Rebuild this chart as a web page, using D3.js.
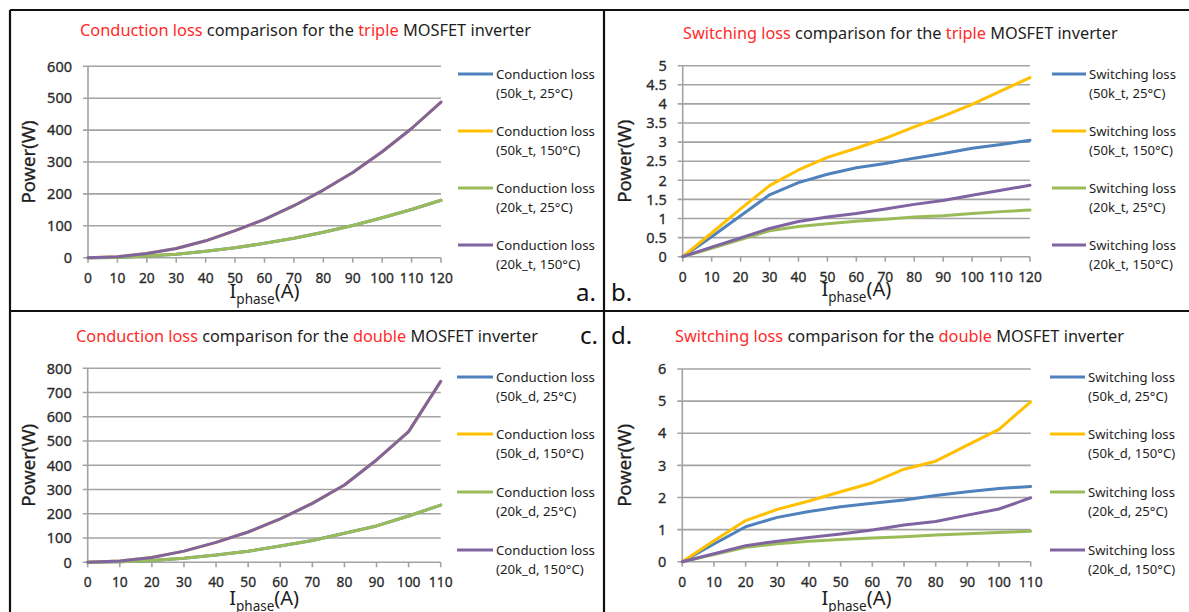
<!DOCTYPE html>
<html>
<head>
<meta charset="utf-8">
<script src="https://cdn.jsdelivr.net/npm/d3@7"></script>
<style>
  body { margin: 0; background: #fff; }
  svg { display: block; }
  text { font-family: "Noto Sans", "Open Sans", sans-serif; }
  .lbl { stroke: currentColor; stroke-width: 0.3px; }
</style>
</head>
<body>
<svg id="fig" width="1189" height="612"></svg>
<script>
// ---- data -------------------------------------------------------------
const currentTriple = [0, 10, 20, 30, 40, 50, 60, 70, 80, 90, 100, 110, 120];
const currentDouble = [0, 10, 20, 30, 40, 50, 60, 70, 80, 90, 100, 110];

// conduction loss, triple MOSFET inverter (W)
const condTriple50k25  = [0, 1, 5, 11, 20, 31, 45, 61, 80, 101, 125, 151, 180];
const condTriple50k150 = [0, 3, 13, 29, 53, 85, 120, 163, 212, 267, 332, 405, 488];
const condTriple20k25  = [0, 1, 5, 11, 20, 31, 45, 61, 80, 101, 125, 151, 180];
const condTriple20k150 = [0, 3, 13, 29, 53, 85, 120, 163, 212, 267, 332, 405, 488];

// switching loss, triple MOSFET inverter (W)
const swTriple50k25  = [0, 0.52, 1.07, 1.62, 1.94, 2.16, 2.33, 2.44, 2.58, 2.70, 2.84, 2.94, 3.05];
const swTriple50k150 = [0, 0.62, 1.25, 1.86, 2.27, 2.60, 2.84, 3.10, 3.40, 3.68, 3.99, 4.34, 4.69];
const swTriple20k25  = [0, 0.22, 0.45, 0.68, 0.79, 0.86, 0.93, 0.98, 1.04, 1.07, 1.13, 1.18, 1.22];
const swTriple20k150 = [0, 0.25, 0.49, 0.74, 0.92, 1.04, 1.13, 1.25, 1.37, 1.47, 1.61, 1.74, 1.87];

// conduction loss, double MOSFET inverter (W)
const condDouble50k25  = [0, 2, 7, 17, 30, 46, 67, 90, 120, 150, 191, 236];
const condDouble50k150 = [0, 5, 20, 46, 82, 125, 179, 243, 319, 422, 539, 746];
const condDouble20k25  = [0, 2, 7, 17, 30, 46, 67, 90, 120, 150, 191, 236];
const condDouble20k150 = [0, 5, 20, 46, 82, 125, 179, 243, 319, 422, 539, 746];

// switching loss, double MOSFET inverter (W)
const swDouble50k25  = [0, 0.55, 1.09, 1.38, 1.56, 1.71, 1.82, 1.92, 2.06, 2.18, 2.28, 2.34];
const swDouble50k150 = [0, 0.65, 1.28, 1.63, 1.89, 2.18, 2.46, 2.88, 3.13, 3.63, 4.12, 4.98];
const swDouble20k25  = [0, 0.22, 0.45, 0.56, 0.64, 0.69, 0.74, 0.78, 0.83, 0.87, 0.91, 0.95];
const swDouble20k150 = [0, 0.25, 0.50, 0.64, 0.75, 0.86, 0.99, 1.14, 1.25, 1.45, 1.64, 1.99];

// axis ticks
const xTicksTriple = [0, 10, 20, 30, 40, 50, 60, 70, 80, 90, 100, 110, 120];
const xTicksDouble = [0, 10, 20, 30, 40, 50, 60, 70, 80, 90, 100, 110];
const yTicksCondTriple = [0, 100, 200, 300, 400, 500, 600];
const yTicksSwTriple   = [0, 0.5, 1, 1.5, 2, 2.5, 3, 3.5, 4, 4.5, 5];
const yTicksCondDouble = [0, 100, 200, 300, 400, 500, 600, 700, 800];
const yTicksSwDouble   = [0, 1, 2, 3, 4, 5, 6];

// legend labels
const legendCondTriple = [["Conduction loss", "(50k_t, 25°C)"], ["Conduction loss", "(50k_t, 150°C)"],
                          ["Conduction loss", "(20k_t, 25°C)"], ["Conduction loss", "(20k_t, 150°C)"]];
const legendSwTriple   = [["Switching loss", "(50k_t, 25°C)"], ["Switching loss", "(50k_t, 150°C)"],
                          ["Switching loss", "(20k_t, 25°C)"], ["Switching loss", "(20k_t, 150°C)"]];
const legendCondDouble = [["Conduction loss", "(50k_d, 25°C)"], ["Conduction loss", "(50k_d, 150°C)"],
                          ["Conduction loss", "(20k_d, 25°C)"], ["Conduction loss", "(20k_d, 150°C)"]];
const legendSwDouble   = [["Switching loss", "(50k_d, 25°C)"], ["Switching loss", "(50k_d, 150°C)"],
                          ["Switching loss", "(20k_d, 25°C)"], ["Switching loss", "(20k_d, 150°C)"]];

const seriesColors = ["#4F81BD", "#FFC000", "#9BBB59", "#8064A2"];

// ---- layout -----------------------------------------------------------
const RED = "#ff2a2a", INK = "#1e1e1e", GRID = "#a3a3a3";

const panels = [
  { tag: "a.", tagX: 576, tagY: 301,
    title: [["Conduction loss", RED], [" comparison for the ", INK], ["triple", RED], [" MOSFET inverter", INK]],
    titleX: 80, titleY: 36, titleW: 451,
    left: 88, right: 441, top: 66.3, bottom: 257.7,
    x: currentTriple, xTicks: xTicksTriple, yTicks: yTicksCondTriple,
    series: [condTriple50k25, condTriple50k150, condTriple20k25, condTriple20k150],
    legend: legendCondTriple, legX1: 458, legX2: 493, legTextX: 496, legY: [74, 131, 188, 245], legW: 99,
    ylabX: 29, xlabBase: 298 },
  { tag: "b.", tagX: 611, tagY: 301,
    title: [["Switching loss", RED], [" comparison for the ", INK], ["triple", RED], [" MOSFET inverter", INK]],
    titleX: 683, titleY: 39, titleW: 435,
    left: 682.7, right: 1030, top: 65.7, bottom: 256.7,
    x: currentTriple, xTicks: xTicksTriple, yTicks: yTicksSwTriple,
    series: [swTriple50k25, swTriple50k150, swTriple20k25, swTriple20k150],
    legend: legendSwTriple, legX1: 1052, legX2: 1086, legTextX: 1089, legY: [74, 131, 188, 245], legW: 87,
    ylabX: 625, xlabBase: 296 },
  { tag: "c.", tagX: 580, tagY: 344,
    title: [["Conduction loss", RED], [" comparison for the ", INK], ["double", RED], [" MOSFET inverter", INK]],
    titleX: 76, titleY: 341.5, titleW: 462,
    left: 87.7, right: 440.7, top: 368.3, bottom: 562.3,
    x: currentDouble, xTicks: xTicksDouble, yTicks: yTicksCondDouble,
    series: [condDouble50k25, condDouble50k150, condDouble20k25, condDouble20k150],
    legend: legendCondDouble, legX1: 457, legX2: 493, legTextX: 496, legY: [377, 434, 492, 550], legW: 99,
    ylabX: 29, xlabBase: 605 },
  { tag: "d.", tagX: 611, tagY: 344,
    title: [["Switching loss", RED], [" comparison for the ", INK], ["double", RED], [" MOSFET inverter", INK]],
    titleX: 675, titleY: 342, titleW: 449,
    left: 682.3, right: 1030.7, top: 369, bottom: 561.7,
    x: currentDouble, xTicks: xTicksDouble, yTicks: yTicksSwDouble,
    series: [swDouble50k25, swDouble50k150, swDouble20k25, swDouble20k150],
    legend: legendSwDouble, legX1: 1050, legX2: 1085, legTextX: 1088, legY: [377, 434, 492, 550], legW: 87,
    ylabX: 625, xlabBase: 605 }
];

const svg = d3.select("#fig");

// scale a text element's font size so it spans the given width
function fitWidth(sel, target) {
  const node = sel.node();
  const w = node.getComputedTextLength();
  const fs = parseFloat(sel.attr("font-size"));
  if (w > 0) sel.attr("font-size", (fs * target / w).toFixed(2));
}

panels.forEach(p => {
  const g = svg.append("g");
  const xs = d3.scaleLinear().domain([0, d3.max(p.xTicks)]).range([p.left, p.right]);
  const ys = d3.scaleLinear().domain([0, d3.max(p.yTicks)]).range([p.bottom, p.top]);

  // horizontal gridlines (with short tick stubs left of the axis)
  g.append("g").selectAll("line").data(p.yTicks).join("line")
    .attr("x1", p.left - 5).attr("x2", p.right)
    .attr("y1", d => ys(d)).attr("y2", d => ys(d))
    .attr("stroke", GRID).attr("stroke-width", 1.6);

  // vertical axis line
  g.append("line")
    .attr("x1", p.left).attr("x2", p.left).attr("y1", ys(0)).attr("y2", ys(d3.max(p.yTicks)))
    .attr("stroke", GRID).attr("stroke-width", 1.6);

  // x axis tick marks
  g.append("g").selectAll("line").data(p.xTicks).join("line")
    .attr("x1", d => xs(d)).attr("x2", d => xs(d))
    .attr("y1", ys(0)).attr("y2", ys(0) + 5)
    .attr("stroke", GRID).attr("stroke-width", 1.6);

  // y tick labels
  g.append("g").selectAll("text").data(p.yTicks).join("text")
    .attr("class", "lbl")
    .attr("x", p.left - 16).attr("y", d => ys(d))
    .attr("dy", "0.36em").attr("text-anchor", "end")
    .attr("font-size", 14.5).attr("fill", "#2a2a2a").style("color", "#2a2a2a")
    .text(d => String(d));

  // x tick labels
  g.append("g").selectAll("text").data(p.xTicks).join("text")
    .attr("class", "lbl")
    .attr("x", d => xs(d)).attr("y", ys(0) + 25)
    .attr("text-anchor", "middle")
    .attr("font-size", 13.8).attr("fill", "#2a2a2a").style("color", "#2a2a2a")
    .text(d => String(d));

  // series lines
  const line = d3.line().x((d, i) => xs(p.x[i])).y(d => ys(d));
  p.series.forEach((s, k) => {
    g.append("path").datum(s)
      .attr("d", line)
      .attr("fill", "none")
      .attr("stroke", seriesColors[k])
      .attr("stroke-width", 3)
      .attr("stroke-linejoin", "round")
      .attr("stroke-linecap", "round");
  });

  // title
  const t = g.append("text")
    .attr("x", p.titleX).attr("y", p.titleY)
    .attr("font-size", 16);
  p.title.forEach(([txt, col]) => t.append("tspan").attr("fill", col).text(txt));
  fitWidth(t, p.titleW);

  // y axis label
  const cy = (p.top + p.bottom) / 2;
  const yl = g.append("text")
    .attr("class", "lbl")
    .attr("transform", `translate(${p.ylabX + 6},${cy}) rotate(-90)`)
    .attr("text-anchor", "middle")
    .attr("font-size", 18).attr("fill", INK).style("color", INK)
    .text("Power(W)");
  fitWidth(yl, 83);

  // x axis label: I with subscript "phase"
  const cx = (p.left + p.right) / 2;
  const xl = g.append("text")
    .attr("x", cx).attr("y", p.xlabBase)
    .attr("text-anchor", "middle")
    .attr("font-size", 20).attr("fill", INK);
  xl.append("tspan").text("I");
  xl.append("tspan").attr("font-size", 13.5).attr("dy", 6).text("phase");
  xl.append("tspan").attr("dy", -6).text("(A)");

  // legend
  p.legend.forEach((lab, k) => {
    const y = p.legY[k];
    g.append("line")
      .attr("x1", p.legX1).attr("x2", p.legX2).attr("y1", y).attr("y2", y)
      .attr("stroke", seriesColors[k]).attr("stroke-width", 3);
    const l1 = g.append("text")
      .attr("x", p.legTextX).attr("y", y).attr("dy", "0.36em")
      .attr("font-size", 13).attr("fill", INK).text(lab[0]);
    fitWidth(l1, p.legW);
    g.append("text")
      .attr("x", p.legTextX).attr("y", y + 19).attr("dy", "0.36em")
      .attr("font-size", l1.attr("font-size")).attr("fill", INK).text(lab[1]);
  });

  // panel tag
  g.append("text")
    .attr("x", p.tagX).attr("y", p.tagY)
    .attr("font-size", 24).attr("fill", "#111")
    .text(p.tag);
});

// panel frame lines
const frame = svg.append("g").attr("stroke", "#111").attr("stroke-width", 2.2);
frame.append("line").attr("x1", 10).attr("x2", 1189).attr("y1", 10).attr("y2", 10);
frame.append("line").attr("x1", 10).attr("x2", 10).attr("y1", 10).attr("y2", 612);
frame.append("line").attr("x1", 604).attr("x2", 604).attr("y1", 10).attr("y2", 612);
frame.append("line").attr("x1", 10).attr("x2", 1189).attr("y1", 311).attr("y2", 311);
</script>
</body>
</html>
